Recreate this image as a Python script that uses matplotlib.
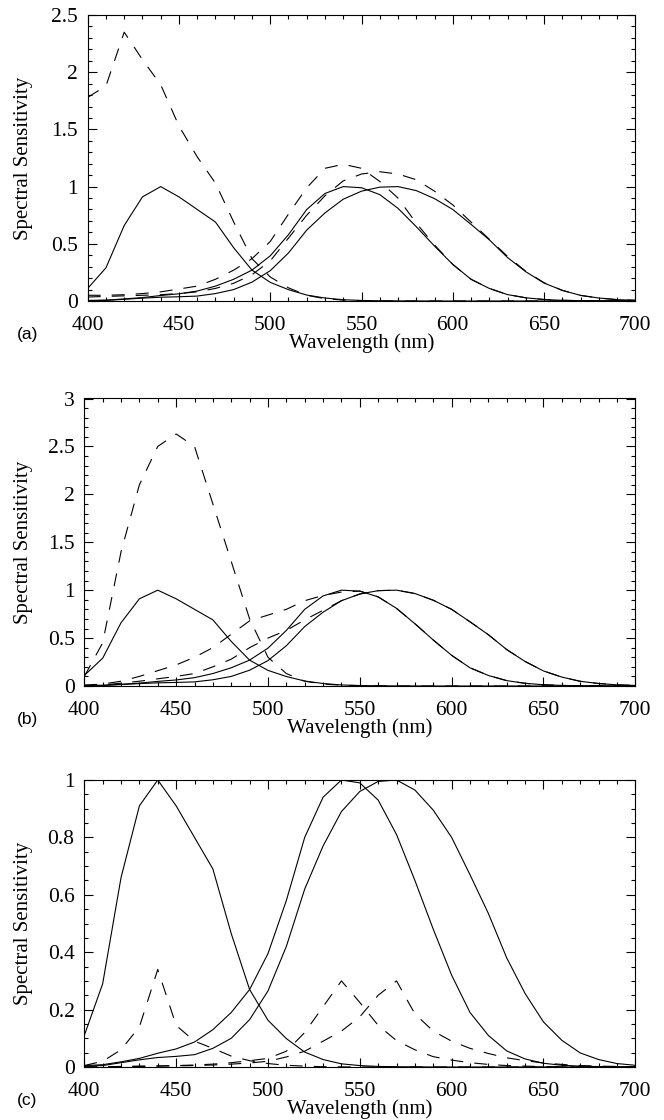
# Cone spectral sensitivities, three panels (a)-(c)

import matplotlib
matplotlib.use('Agg')
import matplotlib.pyplot as pl
from matplotlib.ticker import MultipleLocator, FormatStrFormatter

wavelength = list(range(400, 701, 10))

# normalised cone fundamentals (solid lines, same in every panel)
s_cone = [0.11, 0.29, 0.66, 0.91, 1.0, 0.91, 0.80, 0.69, 0.465, 0.27, 0.163,
	0.099, 0.052, 0.026, 0.011, 0.005, 0.002, 0.001, 0.0005, 0, 0,
	0, 0, 0, 0, 0, 0, 0, 0, 0, 0]
m_cone = [0.005, 0.008, 0.018, 0.03, 0.048, 0.063, 0.087, 0.13, 0.19, 0.27, 0.395,
	0.58, 0.80, 0.94, 1.0, 0.99, 0.93, 0.81, 0.65, 0.48, 0.32,
	0.19, 0.11, 0.056, 0.028, 0.013, 0.006, 0.003, 0.0015, 0.0008, 0.0004]
l_cone = [0.003, 0.005, 0.015, 0.025, 0.033, 0.037, 0.043, 0.065, 0.10, 0.165, 0.265,
	0.42, 0.62, 0.77, 0.89, 0.96, 0.995, 1.0, 0.965, 0.895, 0.80,
	0.67, 0.535, 0.38, 0.256, 0.157, 0.093, 0.049, 0.026, 0.012, 0.006]

# dashed curves, panel (a)
a_s = [1.78, 1.88, 2.35, 2.11, 1.89, 1.53, 1.26, 1.03, 0.69, 0.37, 0.21,
	0.115, 0.05, 0.02, 0.008, 0.003, 0.001, 0, 0, 0, 0,
	0, 0, 0, 0, 0, 0, 0, 0, 0, 0]
a_m = [0.05, 0.05, 0.055, 0.065, 0.08, 0.105, 0.13, 0.19, 0.27, 0.37, 0.52,
	0.76, 0.99, 1.16, 1.195, 1.16, 1.045, 0.90, 0.68, 0.49, 0.32,
	0.19, 0.11, 0.056, 0.028, 0.013, 0.006, 0.003, 0.0015, 0.0008, 0.0004]
a_l = [0.035, 0.04, 0.045, 0.05, 0.055, 0.065, 0.08, 0.11, 0.155, 0.23, 0.35,
	0.55, 0.75, 0.92, 1.05, 1.11, 1.13, 1.11, 1.06, 0.96, 0.84,
	0.69, 0.54, 0.39, 0.26, 0.16, 0.093, 0.049, 0.026, 0.012, 0.006]

# dashed curves, panel (b)
b_s = [0.10, 0.45, 1.40, 2.10, 2.50, 2.63, 2.50, 1.90, 1.30, 0.70, 0.30,
	0.13, 0.05, 0.02, 0.008, 0.004, 0.002, 0, 0, 0, 0,
	0, 0, 0, 0, 0, 0, 0, 0, 0, 0]
b_m = [0.01, 0.02, 0.05, 0.10, 0.16, 0.22, 0.30, 0.40, 0.54, 0.68, 0.74,
	0.80, 0.89, 0.945, 0.98, 0.99, 0.93, 0.81, 0.65, 0.48, 0.32,
	0.19, 0.11, 0.056, 0.028, 0.013, 0.006, 0.003, 0.0015, 0.0008, 0.0004]
b_l = [0.005, 0.01, 0.03, 0.05, 0.075, 0.10, 0.13, 0.20, 0.28, 0.40, 0.50,
	0.58, 0.69, 0.79, 0.89, 0.96, 0.995, 1.0, 0.965, 0.895, 0.80,
	0.67, 0.535, 0.38, 0.256, 0.157, 0.093, 0.049, 0.026, 0.012, 0.006]

# dashed curves, panel (c)
c_s = [0.005, 0.02, 0.06, 0.14, 0.34, 0.145, 0.09, 0.065, 0.038, 0.022, 0.012,
	0.006, 0.003, 0.001, 0.0005, 0, 0, 0, 0, 0, 0,
	0, 0, 0, 0, 0, 0, 0, 0, 0, 0]
c_m = [0.0, 0.001, 0.002, 0.003, 0.004, 0.005, 0.007, 0.01, 0.015, 0.022, 0.03,
	0.055, 0.12, 0.21, 0.30, 0.225, 0.145, 0.092, 0.06, 0.036, 0.024,
	0.015, 0.009, 0.005, 0.003, 0.0015, 0.0008, 0.0004, 0.0002, 0.0001, 0]
c_l = [0.0, 0.0005, 0.001, 0.002, 0.003, 0.004, 0.005, 0.007, 0.01, 0.014, 0.02,
	0.035, 0.055, 0.09, 0.125, 0.175, 0.25, 0.30, 0.185, 0.125, 0.09,
	0.065, 0.047, 0.032, 0.022, 0.014, 0.009, 0.005, 0.003, 0.002, 0.001]

serif = 'Liberation Serif'
dash = (0, (9.3, 8.0))


def draw_panel(ax, dashed, ymax, ymajor, yminor, ylab_x):
	for curve in (s_cone, m_cone, l_cone):
		ax.plot(wavelength, curve, color='black', lw=0.8)
	for curve in dashed:
		ax.plot(wavelength, curve, color='black', lw=0.8, linestyle=dash)

	ax.set_xlim(400, 700)
	ax.set_ylim(0, ymax)
	ax.xaxis.set_major_locator(MultipleLocator(50))
	ax.xaxis.set_minor_locator(MultipleLocator(10))
	ax.yaxis.set_major_locator(MultipleLocator(ymajor))
	ax.yaxis.set_minor_locator(MultipleLocator(yminor))
	ax.yaxis.set_major_formatter(FormatStrFormatter('%g'))

	ax.tick_params(which='both', direction='in', top=True, right=True, width=0.8)
	ax.tick_params(which='major', length=6.5)
	ax.tick_params(which='minor', length=3)
	ax.tick_params(axis='x', pad=10.5, labelsize=15.5)
	ax.tick_params(axis='y', pad=7, labelsize=15.5)
	for lab in ax.get_xticklabels() + ax.get_yticklabels():
		lab.set_family(serif)
	for sp in ax.spines.values():
		sp.set_linewidth(0.8)

	ax.set_xlabel('Wavelength (nm)', fontsize=15, family=serif, va='top')
	ax.xaxis.set_label_coords(0.5, -0.113)
	ax.set_ylabel('Spectral Sensitivity', fontsize=15, family=serif, va='center')
	ax.yaxis.set_label_coords(ylab_x, 0.5)


def main():
	pl.rcParams['lines.scale_dashes'] = False
	fig = pl.figure(figsize=(6.64, 11.2), dpi=100)

	W, H = 664.0, 1120.0
	# axes boxes in pixels: left, right, top, bottom
	boxes = [(87.7, 635.3, 15, 301), (84.3, 635.3, 398.5, 686), (84.3, 635.3, 780, 1067)]
	panels = [((a_s, a_m, a_l), 2.5, 0.5, 0.1),
		((b_s, b_m, b_l), 3.0, 0.5, 0.1),
		((c_s, c_m, c_l), 1.0, 0.2, 0.05)]
	names = ['(a)', '(b)', '(c)']

	for box, (dashed, ymax, ymajor, yminor), name in zip(boxes, panels, names):
		l, r, t, b = box
		ax = fig.add_axes([l / W, 1 - b / H, (r - l) / W, (b - t) / H])
		draw_panel(ax, dashed, ymax, ymajor, yminor, (24 - l) / (r - l))
		fig.text(17 / W, 1 - (b + 26) / H, name, family='Liberation Sans',
			fontsize=12.5, ha='left', va='top')

	fig.savefig('out.png', dpi=100)


if __name__ == "__main__":
	main()
